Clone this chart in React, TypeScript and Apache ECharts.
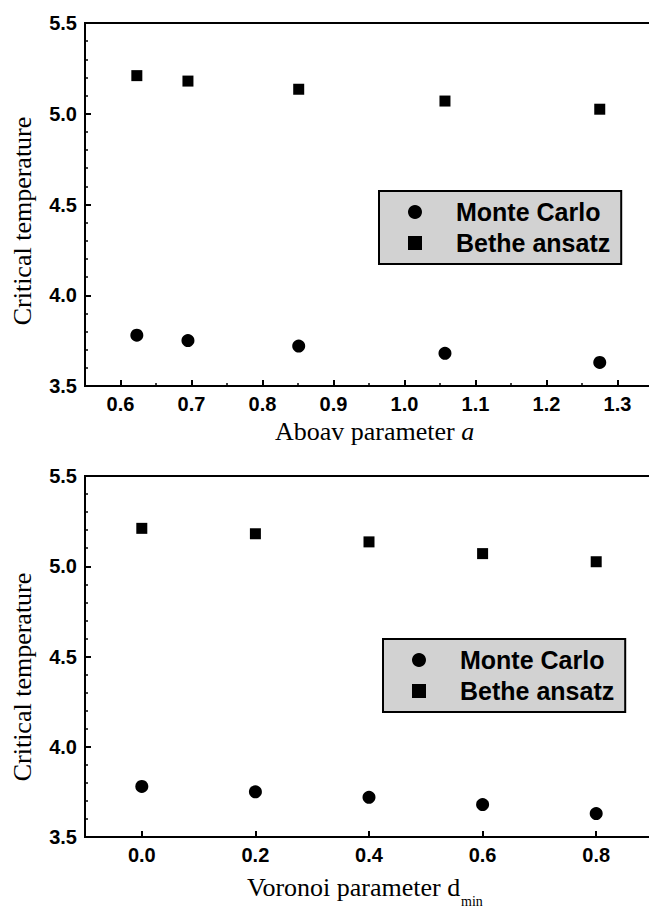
import React, { useEffect, useRef } from "react";
import * as echarts from "echarts";

const aboavValues = [0.623, 0.695, 0.851, 1.057, 1.275];
const voronoiValues = [0.0, 0.2, 0.4, 0.6, 0.8];
const monteCarlo = [3.78, 3.75, 3.72, 3.68, 3.63];
const betheAnsatz = [5.21, 5.18, 5.135, 5.07, 5.025];
const aboavMajorTicks = [0.6, 0.7, 0.8, 0.9, 1.0, 1.1, 1.2, 1.3];
const aboavMinorTicks = [0.55, 0.65, 0.75, 0.85, 0.95, 1.05, 1.15, 1.25, 1.35];
const voronoiTicks = [0.0, 0.2, 0.4, 0.6, 0.8];
const seriesNames = ["Monte Carlo", "Bethe ansatz"];
const yAxisTitle = "Critical temperature";

const SANS = "'Liberation Sans', Arial, sans-serif";
const SERIF = "'Liberation Serif', 'Times New Roman', serif";

const tickLabel = {
  fontSize: 20,
  fontWeight: "bold" as const,
  fontFamily: SANS,
  color: "#000",
};

const axisLine = { show: true, onZero: false, lineStyle: { color: "#000", width: 2 } };
const markStyle = { color: "#000", opacity: 1 };

function pairs(xs: number[], ys: number[]) {
  return xs.map((x, i) => [x, ys[i]]);
}

function makeLegend(left: number, top: number) {
  return {
    orient: "vertical",
    left,
    top,
    padding: [7, 11, 7, 29],
    itemWidth: 14,
    itemHeight: 14,
    itemGap: 3,
    selectedMode: false,
    backgroundColor: "#d2d2d2",
    borderColor: "#000",
    borderWidth: 2,
    data: [
      { name: seriesNames[0], icon: "circle", itemStyle: markStyle },
      { name: seriesNames[1], icon: "rect", itemStyle: markStyle },
    ],
    textStyle: {
      fontSize: 25,
      fontWeight: "bold",
      fontFamily: SANS,
      color: "#000",
      lineHeight: 28,
      padding: [0, 0, 0, 29],
    },
  };
}

function makeYAxis(gridIndex: number) {
  return {
    type: "value",
    gridIndex,
    min: 3.5,
    max: 5.5,
    interval: 0.5,
    axisLine,
    axisTick: { show: true, inside: true, length: 6, lineStyle: { color: "#000", width: 2 } },
    minorTick: { show: true, splitNumber: 5, length: 3, lineStyle: { color: "#000", width: 1.5 } },
    axisLabel: { ...tickLabel, margin: 8, formatter: (v: number) => v.toFixed(1) },
    splitLine: { show: false },
    minorSplitLine: { show: false },
  };
}

export default function App() {
  const ref = useRef<HTMLDivElement>(null);
  useEffect(() => {
    if (!ref.current) return;
    const chart = echarts.init(ref.current, null, { renderer: "svg" });
    const option: any = {
      animation: false,
      backgroundColor: "#fff",
      grid: [
        { left: 85, top: 23, width: 568, height: 363, show: true, borderColor: "#000", borderWidth: 2, backgroundColor: "transparent" },
        { left: 85, top: 476, width: 568, height: 361, show: true, borderColor: "#000", borderWidth: 2, backgroundColor: "transparent" },
      ],
      xAxis: [
        {
          type: "value",
          gridIndex: 0,
          position: "bottom",
          offset: 0,
          min: 0.55,
          max: 1.35,
          axisLine,
          axisTick: { show: true, inside: true, length: 6, customValues: aboavMajorTicks, lineStyle: { color: "#000", width: 2 } },
          axisLabel: { ...tickLabel, margin: 8, customValues: aboavMajorTicks, formatter: (v: number) => v.toFixed(1) },
          splitLine: { show: false },
        },
        {
          type: "value",
          gridIndex: 0,
          position: "bottom",
          offset: 0,
          min: 0.55,
          max: 1.35,
          axisLine: { show: false },
          axisTick: { show: true, inside: true, length: 3, customValues: aboavMinorTicks, lineStyle: { color: "#000", width: 1.5 } },
          axisLabel: { show: false },
          splitLine: { show: false },
        },
        {
          type: "value",
          gridIndex: 1,
          position: "bottom",
          offset: 0,
          min: -0.1,
          max: 0.9,
          axisLine,
          axisTick: { show: true, inside: true, length: 6, customValues: voronoiTicks, lineStyle: { color: "#000", width: 2 } },
          axisLabel: { ...tickLabel, margin: 8, customValues: voronoiTicks, formatter: (v: number) => v.toFixed(1) },
          splitLine: { show: false },
        },
      ],
      yAxis: [makeYAxis(0), makeYAxis(1)],
      legend: [makeLegend(379, 191), makeLegend(383, 639)],
      series: [
        { type: "scatter", name: seriesNames[0], xAxisIndex: 0, yAxisIndex: 0, symbol: "circle", symbolSize: 13, itemStyle: markStyle, data: pairs(aboavValues, monteCarlo) },
        { type: "scatter", name: seriesNames[1], xAxisIndex: 0, yAxisIndex: 0, symbol: "rect", symbolSize: 11, itemStyle: markStyle, data: pairs(aboavValues, betheAnsatz) },
        { type: "scatter", name: seriesNames[0], xAxisIndex: 2, yAxisIndex: 1, symbol: "circle", symbolSize: 13, itemStyle: markStyle, data: pairs(voronoiValues, monteCarlo) },
        { type: "scatter", name: seriesNames[1], xAxisIndex: 2, yAxisIndex: 1, symbol: "rect", symbolSize: 11, itemStyle: markStyle, data: pairs(voronoiValues, betheAnsatz) },
      ],
      graphic: [
        {
          type: "text",
          x: 22,
          y: 221,
          rotation: Math.PI / 2,
          style: { text: yAxisTitle, fontSize: 26, fontFamily: SERIF, fill: "#000", align: "center", verticalAlign: "middle" },
        },
        {
          type: "text",
          x: 22,
          y: 677,
          rotation: Math.PI / 2,
          style: { text: yAxisTitle, fontSize: 26, fontFamily: SERIF, fill: "#000", align: "center", verticalAlign: "middle" },
        },
        {
          type: "text",
          x: 275,
          y: 431,
          style: {
            text: "{n|Aboav parameter }{i|a}",
            align: "left",
            verticalAlign: "middle",
            fill: "#000",
            rich: {
              n: { fontSize: 26, fontFamily: SERIF, fill: "#000" },
              i: { fontSize: 26, fontFamily: SERIF, fontStyle: "italic", fill: "#000" },
            },
          },
        },
        {
          type: "text",
          x: 247,
          y: 887,
          style: { text: "Voronoi parameter d", fontSize: 26, fontFamily: SERIF, fill: "#000", align: "left", verticalAlign: "middle" },
        },
        {
          type: "text",
          x: 461,
          y: 908,
          style: { text: "min", fontSize: 14, fontFamily: SERIF, fill: "#000", align: "left", verticalAlign: "bottom" },
        },
      ],
    };
    chart.setOption(option);
    return () => chart.dispose();
  }, []);
  return (
    <div style={{ position: "fixed", left: 0, top: 0, width: 649, height: 909, overflow: "hidden", background: "#fff" }}>
      <div ref={ref} style={{ width: 670, height: 909 }} />
    </div>
  );
}
